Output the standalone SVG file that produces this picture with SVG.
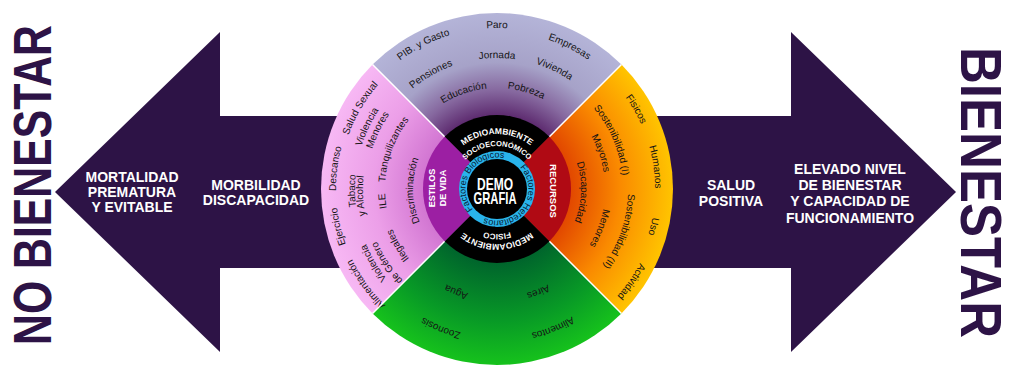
<svg xmlns="http://www.w3.org/2000/svg" width="1009" height="367" viewBox="0 0 1009 367">
<defs>
<style>
.w{font-family:"Liberation Sans",Arial,sans-serif;font-size:10px;fill:#141414;text-anchor:middle}
.rl{font-family:"Liberation Sans",Arial,sans-serif;font-weight:bold;fill:#fff;text-anchor:middle}
.cy{font-family:"Liberation Sans",Arial,sans-serif;font-size:9px;fill:#0a1a33;text-anchor:middle}
.al{font-family:"Liberation Sans",Arial,sans-serif;font-weight:bold;font-size:14px;fill:#fff;text-anchor:middle}
.big{font-family:"Liberation Sans",Arial,sans-serif;font-weight:bold;fill:#2d1346;text-anchor:middle}
.arrow{fill:#2d1346}
.sep{stroke:#fff;stroke-width:1.5}
</style>
<radialGradient id="gTop" gradientUnits="userSpaceOnUse" cx="497" cy="189" r="176">
<stop offset="0.42" stop-color="#5e2c70"/><stop offset="0.56" stop-color="#86689f"/><stop offset="0.72" stop-color="#a6a2c8"/><stop offset="1" stop-color="#b4b4d8"/>
</radialGradient>
<radialGradient id="gLeft" gradientUnits="userSpaceOnUse" cx="497" cy="189" r="176">
<stop offset="0.42" stop-color="#d276d2"/><stop offset="0.7" stop-color="#ec9fe8"/><stop offset="1" stop-color="#f7b8f4"/>
</radialGradient>
<radialGradient id="gRight" gradientUnits="userSpaceOnUse" cx="497" cy="189" r="176">
<stop offset="0.42" stop-color="#e24800"/><stop offset="0.7" stop-color="#fa8a00"/><stop offset="1" stop-color="#ffc400"/>
</radialGradient>
<radialGradient id="gBottom" gradientUnits="userSpaceOnUse" cx="497" cy="189" r="176">
<stop offset="0.42" stop-color="#00652c"/><stop offset="0.75" stop-color="#089a26"/><stop offset="1" stop-color="#16c21c"/>
</radialGradient>
<path id="b31" d="M497,220.5 A31.5,31.5 0 1,1 497,157.5 A31.5,31.5 0 1,1 497,220.5"/>
<path id="b43" d="M497,232 A43,43 0 1,1 497,146 A43,43 0 1,1 497,232"/>
<path id="b55" d="M497,244 A55,55 0 1,1 497,134 A55,55 0 1,1 497,244"/>
<path id="b84" d="M497,273 A84,84 0 1,1 497,105 A84,84 0 1,1 497,273"/>
<path id="b101" d="M497,290 A101,101 0 1,1 497,88 A101,101 0 1,1 497,290"/>
<path id="b108" d="M497,297 A108,108 0 1,1 497,81 A108,108 0 1,1 497,297"/>
<path id="b112" d="M497,301 A112,112 0 1,1 497,77 A112,112 0 1,1 497,301"/>
<path id="b126" d="M497,315 A126,126 0 1,1 497,63 A126,126 0 1,1 497,315"/>
<path id="b131" d="M497,320 A131,131 0 1,1 497,58 A131,131 0 1,1 497,320"/>
<path id="b134" d="M497,323 A134,134 0 1,1 497,55 A134,134 0 1,1 497,323"/>
<path id="b142" d="M497,331 A142,142 0 1,1 497,47 A142,142 0 1,1 497,331"/>
<path id="b158" d="M497,347 A158,158 0 1,1 497,31 A158,158 0 1,1 497,347"/>
<path id="b161" d="M497,350 A161,161 0 1,1 497,28 A161,161 0 1,1 497,350"/>
<path id="t31" d="M497,157.5 A31.5,31.5 0 1,1 497,220.5 A31.5,31.5 0 1,1 497,157.5"/>
<path id="t45" d="M497,144 A45,45 0 1,1 497,234 A45,45 0 1,1 497,144"/>
<path id="t55" d="M497,134 A55,55 0 1,1 497,244 A55,55 0 1,1 497,134"/>
<path id="t108" d="M497,81 A108,108 0 1,1 497,297 A108,108 0 1,1 497,81"/>
<path id="t148" d="M497,41 A148,148 0 1,1 497,337 A148,148 0 1,1 497,41"/>
</defs>
<rect width="1009" height="367" fill="#fff"/>

<g id="connectors">
<polygon id="arrow-left" class="arrow" points="55,192 220,32 220,116 497,116 497,268 220,268 220,352"/>
<polygon id="arrow-right" class="arrow" points="956,192 791,32 791,116 497,116 497,268 791,268 791,352"/>
</g>

<g id="title-no-bienestar">
<text class="big" font-size="53" transform="translate(51,185) rotate(-90)" textLength="320" lengthAdjust="spacingAndGlyphs">NO BIENESTAR</text>
</g>
<g id="title-bienestar">
<text class="big" font-size="57" transform="translate(961,192.5) rotate(90)" textLength="291" lengthAdjust="spacingAndGlyphs">BIENESTAR</text>
</g>

<g id="label-mortalidad">
<text class="al" x="132" y="182">MORTALIDAD</text>
<text class="al" x="132" y="197">PREMATURA</text>
<text class="al" x="132" y="212">Y EVITABLE</text>
</g>
<g id="label-morbilidad">
<text class="al" x="256" y="189.5">MORBILIDAD</text>
<text class="al" x="256" y="205">DISCAPACIDAD</text>
</g>
<g id="label-salud">
<text class="al" x="731" y="189.5">SALUD</text>
<text class="al" x="731" y="206">POSITIVA</text>
</g>
<g id="label-elevado">
<text class="al" x="850" y="174">ELEVADO NIVEL</text>
<text class="al" x="850" y="190">DE BIENESTAR</text>
<text class="al" x="850" y="206">Y CAPACIDAD DE</text>
<text class="al" x="850" y="223">FUNCIONAMIENTO</text>
</g>

<g id="wheel">
<g id="q-socioeconomico">
<path d="M497,189 L372.55,64.55 A176,176 0 0,1 621.45,64.55 Z" fill="url(#gTop)"/>
<text class="w"><textPath href="#b161" startOffset="50%">Paro</textPath></text>
<text class="w"><textPath href="#b161" startOffset="42.5%">PIB. y Gasto</textPath></text>
<text class="w"><textPath href="#b158" startOffset="57.5%">Empresas</textPath></text>
<text class="w"><textPath href="#b131" startOffset="50%">Jornada</textPath></text>
<text class="w"><textPath href="#b131" startOffset="41.7%">Pensiones</textPath></text>
<text class="w"><textPath href="#b131" startOffset="57.1%">Vivienda</textPath></text>
<text class="w"><textPath href="#b101" startOffset="44.7%">Educación</textPath></text>
<text class="w"><textPath href="#b101" startOffset="54.6%">Pobreza</textPath></text>
</g>
<g id="q-recursos">
<path d="M497,189 L621.45,64.55 A176,176 0 0,1 621.45,313.45 Z" fill="url(#gRight)"/>
<text class="w"><textPath href="#b158" startOffset="66.7%">Fisicos</textPath></text>
<text class="w"><textPath href="#b126" startOffset="68.6%">Sostenibilidad (I)</textPath></text>
<text class="w"><textPath href="#b108" startOffset="69.7%">Mayores</textPath></text>
<text class="w"><textPath href="#b158" startOffset="72.8%">Humanos</textPath></text>
<text class="w"><textPath href="#b84" startOffset="75.6%">Discapacidad</textPath></text>
<text class="w"><textPath href="#b158" startOffset="78.75%">Uso</textPath></text>
<text class="w"><textPath href="#b131" startOffset="80.3%">Sostenibilidad (II)</textPath></text>
<text class="w"><textPath href="#b108" startOffset="80.8%">Menores</textPath></text>
<text class="w"><textPath href="#b161" startOffset="84.6%">Actividad</textPath></text>
</g>
<g id="q-fisico">
<path d="M497,189 L621.45,313.45 A176,176 0 0,1 372.55,313.45 Z" fill="url(#gBottom)"/>
<text class="w"><textPath href="#t108" startOffset="56%">Agua</textPath></text>
<text class="w"><textPath href="#t108" startOffset="43.9%">Aires</textPath></text>
<text class="w"><textPath href="#t148" startOffset="56.1%">Zoonosis</textPath></text>
<text class="w"><textPath href="#t148" startOffset="43.9%">Alimentos</textPath></text>
</g>
<g id="q-estilos">
<path d="M497,189 L372.55,313.45 A176,176 0 0,1 372.55,64.55 Z" fill="url(#gLeft)"/>
<text class="w"><textPath href="#b158" startOffset="33.5%">Salud Sexual</textPath></text>
<text class="w"><textPath href="#b142" startOffset="32.1%">Violencia</textPath></text>
<text class="w"><textPath href="#b131" startOffset="32.3%">Menores</textPath></text>
<text class="w"><textPath href="#b112" startOffset="30.8%">Tranquilizantes</textPath></text>
<text class="w"><textPath href="#b161" startOffset="27%">Descanso</textPath></text>
<text class="w"><textPath href="#b161" startOffset="21.3%">Ejercicio</textPath></text>
<text class="w" font-size="9.5"><textPath href="#b142" startOffset="24.8%">Tabaco</textPath></text>
<text class="w" font-size="9.5"><textPath href="#b134" startOffset="24.2%">y Alcohol</textPath></text>
<text class="w"><textPath href="#b112" startOffset="23.3%">ILE</textPath></text>
<text class="w"><textPath href="#b84" startOffset="24.7%">Discriminación</textPath></text>
<text class="w"><textPath href="#b142" startOffset="16.4%">Violencia</textPath></text>
<text class="w"><textPath href="#b131" startOffset="15.6%">de Género</textPath></text>
<text class="w"><textPath href="#b112" startOffset="16.75%">Ilegales</textPath></text>
<text class="w"><textPath href="#b161" startOffset="15%">Alimentación</textPath></text>
</g>
<g id="separators">
<line class="sep" x1="444.67" y1="136.67" x2="372.55" y2="64.55"/>
<line class="sep" x1="549.33" y1="136.67" x2="621.45" y2="64.55"/>
<line class="sep" x1="549.33" y1="241.33" x2="621.45" y2="313.45"/>
<line class="sep" x1="444.67" y1="241.33" x2="372.55" y2="313.45"/>
</g>
<g id="ring-socioeconomico">
<path d="M497,189 L444.67,136.67 A74,74 0 0,1 549.33,136.67 Z" fill="#000"/>
</g>
<g id="ring-recursos">
<path d="M497,189 L549.33,136.67 A74,74 0 0,1 549.33,241.33 Z" fill="#b00a14"/>
<text class="rl" font-size="9.5" transform="translate(550,191) rotate(90)">RECURSOS</text>
</g>
<g id="ring-fisico">
<path d="M497,189 L549.33,241.33 A74,74 0 0,1 444.67,241.33 Z" fill="#000"/>
</g>
<g id="ring-estilos">
<path d="M497,189 L444.67,241.33 A74,74 0 0,1 444.67,136.67 Z" fill="#9c1fa3"/>
<text class="rl" font-size="9" transform="translate(435,188) rotate(-90)">ESTILOS</text>
<text class="rl" font-size="9" transform="translate(446,188) rotate(-90)">DE VIDA</text>
</g>
<g id="ring-labels">
<text class="rl" font-size="8.5"><textPath href="#b55" startOffset="50%">MEDIOAMBIENTE</textPath></text>
<text class="rl" font-size="7.5"><textPath href="#b43" startOffset="50%">SOCIOECONÓMICO</textPath></text>
<text class="rl" font-size="8.5"><textPath href="#t55" startOffset="50%">MEDIOAMBIENTE</textPath></text>
<text class="rl" font-size="8"><textPath href="#t45" startOffset="50%">FISICO</textPath></text>
</g>
<g id="ring-factores">
<circle cx="497" cy="189" r="38" fill="#29b4ec"/>
<text class="cy"><textPath href="#b31" startOffset="33.6%">Factores Biológicos</textPath></text>
<text class="cy"><textPath href="#t31" startOffset="34.7%">Factores Hereditarios</textPath></text>
</g>
<g id="demografia">
<circle cx="497" cy="189" r="30" fill="#000"/>
<text class="rl" font-size="17" x="495" y="190" textLength="36" lengthAdjust="spacingAndGlyphs">DEMO</text>
<text class="rl" font-size="17" x="495" y="204" textLength="43" lengthAdjust="spacingAndGlyphs">GRAFIA</text>
</g>
</g>
</svg>
